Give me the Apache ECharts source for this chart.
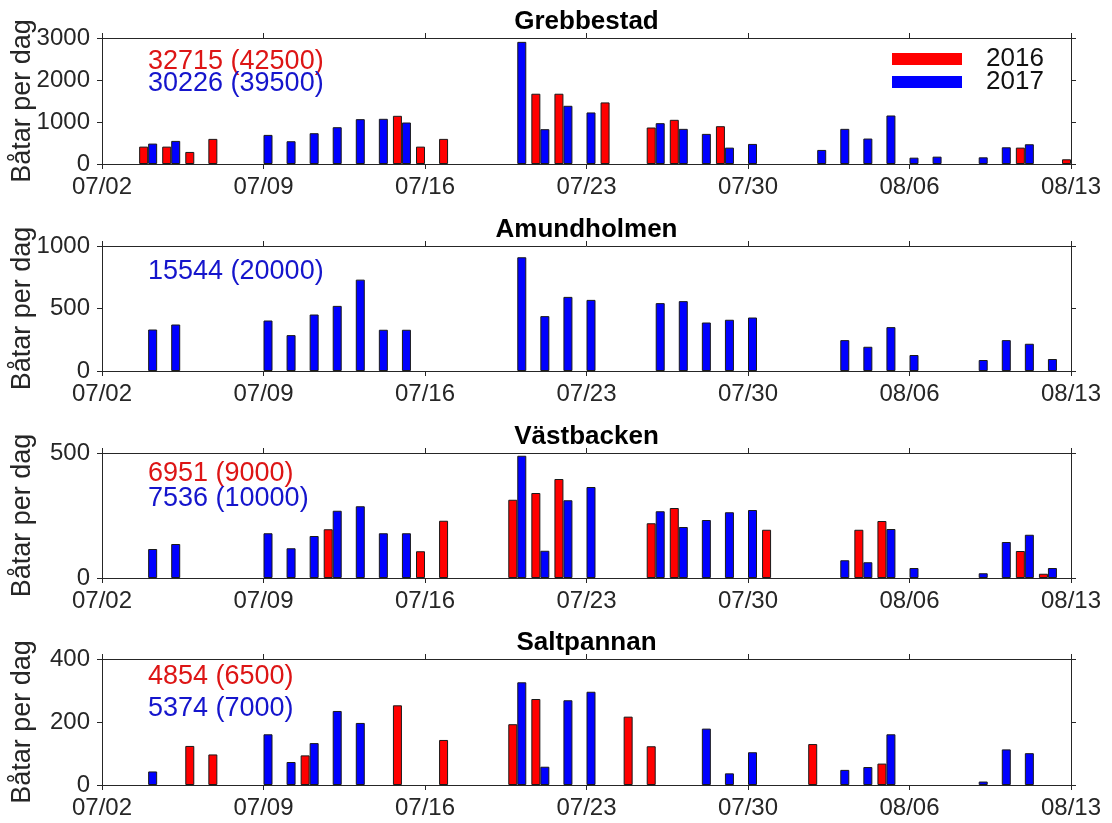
<!DOCTYPE html>
<html><head><meta charset="utf-8">
<script src="https://cdn.jsdelivr.net/npm/echarts@6/dist/echarts.min.js"></script>
<style>html,body{margin:0;padding:0;background:#fff}#c{width:1112px;height:823px}</style>
</head><body><div id="c"></div>
<script>
// Categories: every day from 07/02 to 08/13
const days = [
  '07/02','07/03','07/04','07/05','07/06','07/07','07/08',
  '07/09','07/10','07/11','07/12','07/13','07/14','07/15',
  '07/16','07/17','07/18','07/19','07/20','07/21','07/22',
  '07/23','07/24','07/25','07/26','07/27','07/28','07/29',
  '07/30','07/31','08/01','08/02','08/03','08/04','08/05',
  '08/06','08/07','08/08','08/09','08/10','08/11','08/12',
  '08/13'];

const panelNames = ['Grebbestad', 'Amundholmen', 'Västbacken', 'Saltpannan'];
const yMax  = [3000, 1000, 500, 400];
const yStep = [1000, 500, 500, 200];
const yLabel = 'Båtar per dag';
const seriesNames = ['2016', '2017'];

const _ = null;
// Grebbestad
const greb2016 = [
  _,_,414,414,287,598,_,
  _,_,_,_,_,_,1147,
  414,598,_,_,_,1673,1673,
  _,1466,_,869,1052,_,900,
  _,_,_,_,_,_,_,
  _,_,_,_,_,390,_,
  112];
const greb2017 = [
  _,_,486,550,_,_,_,
  693,542,733,876,1068,1076,988,
  _,_,_,_,2908,829,1386,
  1227,_,_,972,837,717,390,
  478,_,_,335,837,606,1155,
  151,175,_,159,398,470,_,
  _];
// Amundholmen
const amund2016 = new Array(43).fill(null);
const amund2017 = [
  _,_,332,372,_,_,_,
  404,287,452,521,731,330,330,
  _,_,_,_,910,439,593,
  569,_,_,543,559,388,410,
  428,_,_,_,247,194,351,
  128,_,_,88,247,218,96,
  _];
// Västbacken
const vast2016 = [
  _,_,_,_,_,_,_,
  _,_,_,195,_,_,_,
  107,229,_,_,313,340,396,
  _,_,_,219,280,_,_,
  _,193,_,_,_,193,228,
  _,_,_,_,_,108,17,
  _];
const vast2017 = [
  _,_,116,136,_,_,_,
  179,119,168,269,287,179,179,
  _,_,_,_,489,109,311,
  364,_,_,267,204,232,263,
  272,_,_,_,71,63,196,
  40,_,_,19,144,173,40,
  _];
// Saltpannan
const salt2016 = [
  _,_,_,_,124,97,_,
  _,_,94,_,_,_,253,
  _,143,_,_,193,273,_,
  _,_,217,123,_,_,_,
  _,_,_,130,_,_,68,
  _,_,_,_,_,_,_,
  _];
const salt2017 = [
  _,_,43,_,_,_,_,
  161,73,133,235,197,_,_,
  _,_,_,_,326,58,269,
  296,_,_,_,_,179,37,
  104,_,_,_,48,57,161,
  _,_,_,11,113,101,_,
  _];

const data2016 = [greb2016, amund2016, vast2016, salt2016];
const data2017 = [greb2017, amund2017, vast2017, salt2017];
const notes2016 = ['32715 (42500)', null, '6951 (9000)', '4854 (6500)'];
const notes2017 = ['30226 (39500)', '15544 (20000)', '7536 (10000)', '5374 (7000)'];

// ---- layout / style ----
const FONT = '"Liberation Sans", Arial, Helvetica, sans-serif';
const AX = '#262626';
const RED = '#ff0000', BLUE = '#0000ff';
const gridTops = [38, 246, 453, 659];
const gridH = [126, 125, 125, 126];
const gridLeft = 102, gridRight = 41;
const noteY2016 = [62, null, 474, 677];
const noteY2017 = [84, 272, 499, 709];

const grids = [], xAxes = [], yAxes = [], series = [], graphics = [];
for (let i = 0; i < 4; i++) {
  grids.push({left: gridLeft, right: gridRight, top: gridTops[i], height: gridH[i],
              containLabel: false, outerBoundsMode: 'none'});
  const xBase = {
    type: 'category', gridIndex: i, data: days, boundaryGap: false,
    axisLine: {show: true, onZero: false, lineStyle: {color: AX, width: 1}},
    axisTick: {show: true, interval: 6, length: 5, inside: false, lineStyle: {color: AX}},
    splitLine: {show: false}
  };
  xAxes.push(Object.assign({}, xBase, {
    position: 'bottom',
    axisLabel: {interval: 6, fontSize: 24, color: AX, fontFamily: FONT, margin: 11}
  }));
  xAxes.push(Object.assign({}, xBase, {position: 'top', axisLabel: {show: false}}));
  const yBase = {
    type: 'value', gridIndex: i, min: 0, max: yMax[i], interval: yStep[i],
    axisLine: {show: true, onZero: false, lineStyle: {color: AX, width: 1}},
    axisTick: {show: true, length: 5, inside: false, lineStyle: {color: AX}},
    splitLine: {show: false}
  };
  yAxes.push(Object.assign({}, yBase, {
    position: 'left',
    name: yLabel, nameLocation: 'middle', nameGap: 66, nameMoveOverlap: false,
    nameTextStyle: {fontSize: 27, color: AX, fontFamily: FONT},
    axisLabel: {fontSize: 24, color: AX, fontFamily: FONT, margin: 12,
                formatter: v => String(v)}
  }));
  yAxes.push(Object.assign({}, yBase, {position: 'right', axisLabel: {show: false}}));

  const common = {
    type: 'bar', xAxisIndex: 2 * i, yAxisIndex: 2 * i,
    barWidth: 9, barGap: '0%',
    emphasis: {disabled: true}
  };
  series.push(Object.assign({}, common, {
    name: seriesNames[0], data: data2016[i],
    itemStyle: {color: RED, borderColor: '#1a1a1a', borderWidth: 1}
  }));
  series.push(Object.assign({}, common, {
    name: seriesNames[1], data: data2017[i],
    itemStyle: {color: BLUE, borderColor: '#1a1a1a', borderWidth: 1}
  }));

  // panel title
  graphics.push({
    type: 'text', x: gridLeft + (1112 - gridLeft - gridRight) / 2, y: gridTops[i] - 16,
    style: {text: panelNames[i], fill: '#000', font: 'bold 26px ' + FONT,
            align: 'center', verticalAlign: 'middle'}
  });
  if (notes2016[i]) graphics.push({
    type: 'text', x: 148, y: noteY2016[i],
    style: {text: notes2016[i], fill: '#dd1515', font: '27px ' + FONT, verticalAlign: 'middle'}
  });
  if (notes2017[i]) graphics.push({
    type: 'text', x: 148, y: noteY2017[i],
    style: {text: notes2017[i], fill: '#1515cc', font: '27px ' + FONT, verticalAlign: 'middle'}
  });
}

const chart = echarts.init(document.getElementById('c'), null, {renderer: 'canvas'});
chart.setOption({
  animation: false,
  backgroundColor: '#fff',
  grid: grids,
  xAxis: xAxes,
  yAxis: yAxes,
  legend: {
    data: seriesNames, orient: 'vertical', left: 892, top: 46, padding: 0,
    itemWidth: 70, itemHeight: 12, itemGap: -3, icon: 'rect',
    itemStyle: {borderWidth: 0},
    textStyle: {fontSize: 26, color: '#111', fontFamily: FONT, padding: [0, 0, 0, 19]},
    selectedMode: false
  },
  series: series,
  graphic: graphics
});
</script>
</body></html>
